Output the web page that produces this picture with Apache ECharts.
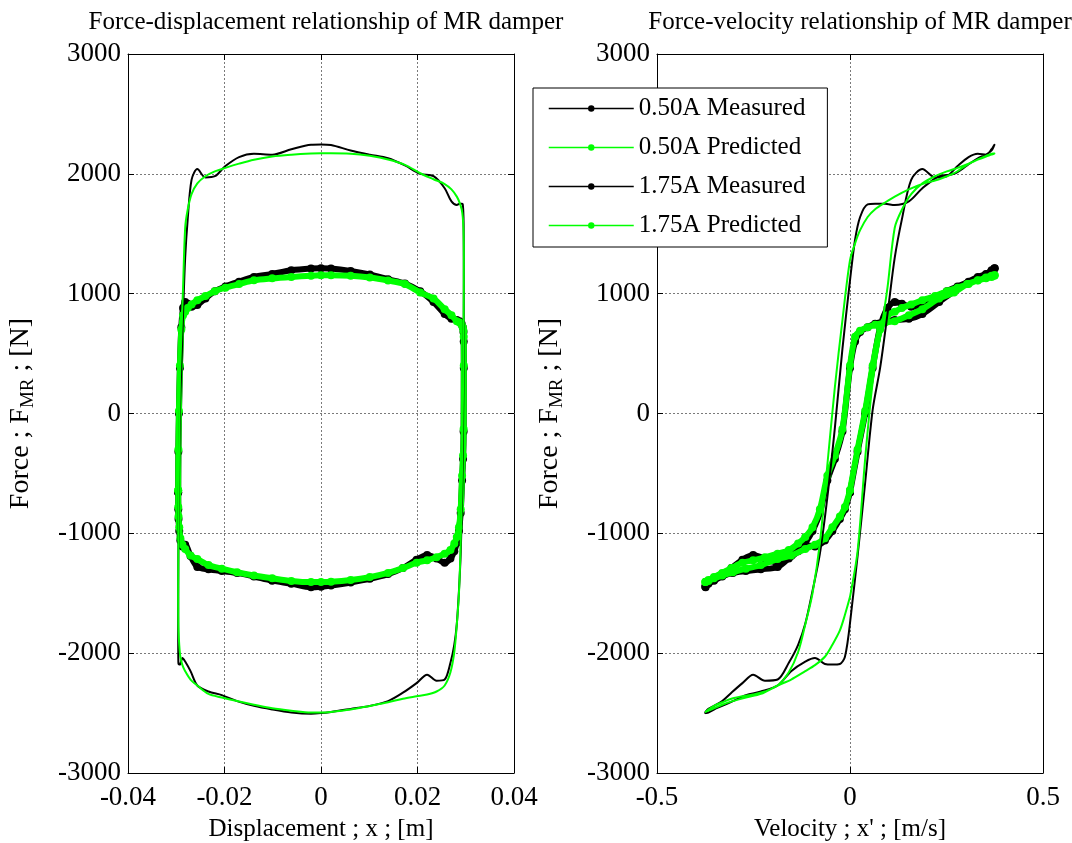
<!DOCTYPE html>
<html><head><meta charset="utf-8">
<script src="https://cdn.jsdelivr.net/npm/echarts@6/dist/echarts.min.js"></script>
<style>html,body{margin:0;padding:0;background:#fff}#c{width:1072px;height:843px}</style>
</head><body><div id="c"></div><script>
// Sample points along one cycle: displacement [m] and velocity [m/s]
const phaseDisp = [-0.0296,-0.02956,-0.02944,-0.02924,-0.02895,-0.02859,-0.02815,-0.02763,-0.02683,-0.02563,-0.02395,-0.02200,-0.01981,-0.01698,-0.01390,-0.01012,-0.00615,-0.00207,0,
 0.00207,0.00615,0.01012,0.01390,0.01740,0.02056,0.02332,0.02563,0.02704,0.02815,0.02872,0.02915,0.02938,0.02953,0.02958,0.0296,
 0.02956,0.02944,0.02924,0.02895,0.02859,0.02815,0.02763,0.02683,0.02563,0.02395,0.02200,0.01981,0.01698,0.01390,0.01012,0.00615,0.00207,0,
 -0.00207,-0.00615,-0.01012,-0.01390,-0.01740,-0.02056,-0.02332,-0.02563,-0.02704,-0.02815,-0.02872,-0.02915,-0.02938,-0.02953,-0.02958,-0.0296];
const phaseVel = [0,0.0196,0.0392,0.0587,0.0780,0.0971,0.1159,0.1344,0.1585,0.1875,0.2204,0.2509,0.2787,0.3072,0.3311,0.3524,0.3668,0.3741,0.375,
 0.3741,0.3668,0.3524,0.3311,0.3034,0.2697,0.2309,0.1875,0.1525,0.1159,0.0907,0.0651,0.0457,0.0262,0.0131,0,
 -0.0196,-0.0392,-0.0587,-0.0780,-0.0971,-0.1159,-0.1344,-0.1585,-0.1875,-0.2204,-0.2509,-0.2787,-0.3072,-0.3311,-0.3524,-0.3668,-0.3741,-0.375,
 -0.3741,-0.3668,-0.3524,-0.3311,-0.3034,-0.2697,-0.2309,-0.1875,-0.1525,-0.1159,-0.0907,-0.0651,-0.0457,-0.0262,-0.0131,0];
// Forces [N] at those samples
const f050Measured = [-660,-320,0,380,720,880,930,915,890,905,960,1020,1060,1100,1140,1165,1195,1210,1212,
 1210,1190,1160,1120,1085,1020,930,830,790,780,770,750,720,680,600,380,
 -150,-380,-560,-830,-980,-1080,-1150,-1210,-1245,-1210,-1180,-1220,-1290,-1340,-1380,-1410,-1435,-1445,
 -1450,-1420,-1395,-1360,-1330,-1315,-1300,-1280,-1190,-1095,-1110,-1060,-980,-880,-800,-660];
const f050Predicted = [-640,-300,20,400,700,820,850,880,910,945,980,1020,1050,1080,1112,1128,1140,1150,1153,
 1154,1150,1135,1110,1080,1010,960,870,820,770,760,740,720,690,640,400,
 -130,-350,-520,-800,-950,-1030,-1085,-1140,-1170,-1200,-1225,-1245,-1290,-1330,-1365,-1390,-1405,-1407,
 -1407,-1397,-1375,-1352,-1325,-1295,-1265,-1215,-1185,-1130,-1095,-1040,-950,-860,-780,-640];
const f175Measured = [-1750,-1190,-580,30,380,830,1300,1620,1950,2040,1970,1980,2065,2140,2168,2160,2205,2243,2245,
 2240,2195,2160,2130,2070,2000,1980,1880,1770,1740,1750,1750,1745,1640,1450,1110,
 540,-120,-700,-1170,-1480,-1755,-1930,-2080,-2220,-2230,-2180,-2250,-2330,-2400,-2440,-2465,-2490,-2500,
 -2505,-2495,-2470,-2440,-2400,-2350,-2320,-2270,-2150,-2070,-2040,-2090,-2095,-2090,-2030,-1750];
const f175Predicted = [-1530,-1150,-380,260,640,1050,1550,1700,1830,1920,1980,2020,2050,2085,2118,2145,2160,2170,2172,
 2172,2168,2150,2120,2075,2005,1955,1915,1870,1810,1760,1705,1640,1530,1420,1280,
 780,220,-430,-1080,-1500,-1760,-1990,-2160,-2270,-2320,-2345,-2360,-2380,-2410,-2440,-2470,-2490,-2495,
 -2495,-2480,-2460,-2430,-2400,-2370,-2340,-2270,-2220,-2150,-2100,-2030,-1930,-1810,-1680,-1530];
const seriesNames = ['0.50A Measured','0.50A Predicted','1.75A Measured','1.75A Predicted'];
const titles = ['Force-displacement relationship of MR damper','Force-velocity relationship of MR damper'];
const xNames = ['Displacement ; x ; [m]', "Velocity ; x' ; [m/s]"];
const yTicks = {min:-3000, max:3000, interval:1000};
const xTicksLeft = {min:-0.04, max:0.04, interval:0.02};
const xTicksRight = {min:-0.5, max:0.5, interval:0.5};

const FONT = 'Liberation Serif';
const FS = 25;
const TICK_FS = 27;
const GREEN = '#00ff00';
function pairs(xs, ys){ return xs.map((x,i)=>[x, ys[i]]); }
function fmt(v){ return String(Math.round(v * 1e6) / 1e6); }

const grids = [
  {left:128, right:558, top:54, bottom:70, outerBoundsMode:'none', containLabel:false},
  {left:657, right:29, top:54, bottom:70, outerBoundsMode:'none', containLabel:false}
];
const gridLine = {show:true, lineStyle:{color:'#7a7a7a', type:[2,2], width:1}};
function xAx(gi, t, pos, main, name){
  return {type:'value', gridIndex:gi, position:pos, min:t.min, max:t.max, interval:t.interval,
    axisLine:{show:true, onZero:false, lineStyle:{color:'#000', width:1}},
    axisTick:{show:true, inside:true, length:6, lineStyle:{color:'#000'}},
    axisLabel:{show:main, color:'#000', fontFamily:FONT, fontSize:TICK_FS, margin:11, formatter:fmt},
    splitLine: main ? gridLine : {show:false},
    name: main ? name : '', nameLocation:'middle', nameGap:44,
    nameTextStyle:{color:'#000', fontFamily:FONT, fontSize:FS}};
}
function yAx(gi, pos, main){
  return {type:'value', gridIndex:gi, position:pos, min:yTicks.min, max:yTicks.max, interval:yTicks.interval,
    axisLine:{show:true, onZero:false, lineStyle:{color:'#000', width:1}},
    axisTick:{show:true, inside:true, length:6, lineStyle:{color:'#000'}},
    axisLabel:{show:main, color:'#000', fontFamily:FONT, fontSize:TICK_FS, margin:7, formatter:fmt},
    splitLine: main ? gridLine : {show:false},
    name: main ? 'Force ; F{s|MR} ; [N]' : '', nameLocation:'middle', nameGap:90, nameRotate:90,
    nameTextStyle:{color:'#000', fontFamily:FONT, fontSize:28, lineHeight:34,
      rich:{s:{fontFamily:FONT, fontSize:19, lineHeight:19, verticalAlign:'bottom', color:'#000'}}}};
}

const forces = [f050Measured, f050Predicted, f175Measured, f175Predicted];
const colors = ['#000', GREEN, '#000', GREEN];
const series = [];
[[0,0,phaseDisp],[2,2,phaseVel]].forEach(([xi, yi, xs]) => {
  forces.forEach((f, k) => {
    const thick = k < 2;
    series.push({
      name: seriesNames[k], type:'line', xAxisIndex:xi, yAxisIndex:yi,
      data: pairs(xs, f), smooth:0.3, animation:false,
      symbol: thick ? 'circle' : 'none', symbolSize: thick ? 8 : 0, showAllSymbol:true,
      itemStyle:{color:colors[k]},
      lineStyle:{color:colors[k], width: thick ? 6 : 2},
      z: 2 + k
    });
  });
});

const chart = echarts.init(document.getElementById('c'), null, {renderer:'canvas'});
chart.setOption({
  backgroundColor:'#fff',
  animation:false,
  title: [
    {text:titles[0], left:321, top:5, textAlign:'center', textStyle:{fontFamily:FONT, fontSize:FS, fontWeight:'normal', color:'#000'}},
    {text:titles[1], left:855, top:5, textAlign:'center', textStyle:{fontFamily:FONT, fontSize:FS, fontWeight:'normal', color:'#000'}}
  ],
  grid: grids,
  xAxis: [xAx(0, xTicksLeft, 'bottom', true, xNames[0]), xAx(0, xTicksLeft, 'top', false, ''),
          xAx(1, xTicksRight, 'bottom', true, xNames[1]), xAx(1, xTicksRight, 'top', false, '')],
  yAxis: [yAx(0,'left',true), yAx(0,'right',false), yAx(1,'left',true), yAx(1,'right',false)],
  legend: {orient:'vertical', left:533, top:88, padding:[8,22,9,15], itemGap:14, itemWidth:85, itemHeight:8,
    borderColor:'#000', borderWidth:1, backgroundColor:'#fff', z:10,
    lineStyle:{width:1.5},
    textStyle:{fontFamily:FONT, fontSize:FS, color:'#000'},
    data: seriesNames},
  series: series
});
</script></body></html>
